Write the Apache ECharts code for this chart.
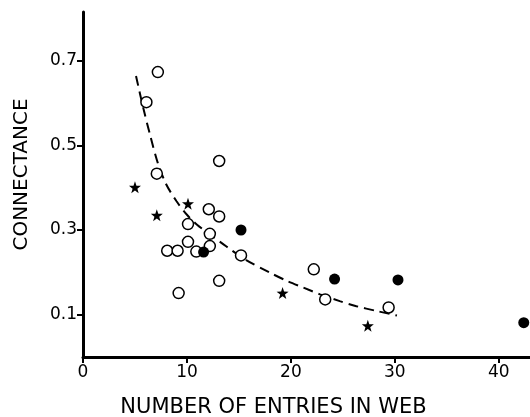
<!DOCTYPE html>
<html>
<head>
<meta charset="utf-8">
<script src="https://cdn.jsdelivr.net/npm/echarts@6/dist/echarts.min.js"></script>
<style>
html,body{margin:0;padding:0;background:#fff;}
#c{width:530px;height:417px;}
</style>
</head>
<body>
<div id="c"></div>
<script>
// Open circles (entries, connectance)
var openX = [7.2, 6.1, 13.1, 7.1, 12.1, 13.1, 10.1, 12.2, 10.1, 8.1, 9.1, 10.9, 12.2, 15.2, 13.1, 9.2, 22.2, 23.3, 29.4];
var openY = [0.673, 0.602, 0.463, 0.433, 0.349, 0.332, 0.314, 0.291, 0.272, 0.251, 0.251, 0.249, 0.262, 0.240, 0.180, 0.151, 0.207, 0.136, 0.117];
// Filled circles
var filledX = [11.6, 15.2, 24.2, 30.3, 42.4];
var filledY = [0.248, 0.300, 0.184, 0.182, 0.081];
// Stars
var starX = [5.0, 7.1, 10.1, 19.2, 27.4];
var starY = [0.401, 0.335, 0.362, 0.151, 0.074];
// Dashed fitted curve
var curveX = [5.1, 5.8, 6.5, 7.2, 8.0, 9.0, 10.0, 11.0, 12.2, 13.8, 15.7, 18.0, 19.6, 21.2, 22.8, 24.7, 26.3, 28.2, 30.2];
var curveY = [0.664, 0.588, 0.520, 0.458, 0.408, 0.368, 0.336, 0.312, 0.290, 0.261, 0.229, 0.199, 0.180, 0.164, 0.148, 0.132, 0.120, 0.109, 0.098];
// Tick labels
var xTicks = [0, 10, 20, 30, 40];
var yTicks = [0.1, 0.3, 0.5, 0.7];

function zip(a, b) { return a.map(function (v, i) { return [v, b[i]]; }); }

var starPath = 'path://M100,0 L123.5,67.6 L195.1,69.1 L138,112.4 L158.8,180.9 L100,140 L41.2,180.9 L62,112.4 L4.9,69.1 L76.5,67.6 Z';
var font = 'DejaVu Sans';

var chart = echarts.init(document.getElementById('c'), null, {renderer: 'canvas'});
chart.setOption({
  animation: false,
  backgroundColor: '#fff',
  grid: {left: 83, right: 0, top: 12, bottom: 60, containLabel: false, outerBoundsMode: 'none'},
  xAxis: {
    type: 'value', min: 0, max: 43,
    axisLine: {show: true, onZero: false, lineStyle: {color: '#000', width: 3}},
    axisTick: {show: true, length: 6, customValues: xTicks, lineStyle: {color: '#000', width: 2}},
    axisLabel: {customValues: xTicks, color: '#000', fontSize: 17, fontFamily: font, margin: 7,
      formatter: function (v) { return String(v); }},
    splitLine: {show: false},
    name: 'NUMBER OF ENTRIES IN WEB', nameLocation: 'middle', nameGap: 40,
    nameTextStyle: {color: '#000', fontSize: 21, fontFamily: font, padding: [0, 66, 0, 0]}
  },
  yAxis: {
    type: 'value', min: 0, max: 0.815,
    axisLine: {show: true, onZero: false, lineStyle: {color: '#000', width: 3}},
    axisTick: {show: true, length: 6, customValues: yTicks, lineStyle: {color: '#000', width: 2}},
    axisLabel: {customValues: yTicks, color: '#000', fontSize: 17, fontFamily: font, margin: 6,
      formatter: function (v) { return v.toFixed(1); }},
    splitLine: {show: false},
    name: 'CONNECTANCE', nameLocation: 'middle', nameGap: 51, nameRotate: 90,
    nameTextStyle: {color: '#000', fontSize: 20, fontFamily: font, padding: [0, 0, 0, 20]}
  },
  series: [
    {
      type: 'line', data: zip(curveX, curveY), smooth: 0.3, symbol: 'none',
      lineStyle: {color: '#000', width: 2, type: [10, 6]}, z: 1
    },
    {
      type: 'scatter', data: zip(openX, openY), symbol: 'circle', symbolSize: 11,
      itemStyle: {color: '#fff', borderColor: '#000', borderWidth: 1.5, opacity: 1}, z: 3
    },
    {
      type: 'scatter', data: zip(filledX, filledY), symbol: 'circle', symbolSize: 11,
      itemStyle: {color: '#000', borderColor: '#000', borderWidth: 0, opacity: 1}, z: 4
    },
    {
      type: 'scatter', data: zip(starX, starY), symbol: starPath, symbolSize: 12,
      itemStyle: {color: '#000', opacity: 1}, z: 4
    }
  ]
});
</script>
</body>
</html>
